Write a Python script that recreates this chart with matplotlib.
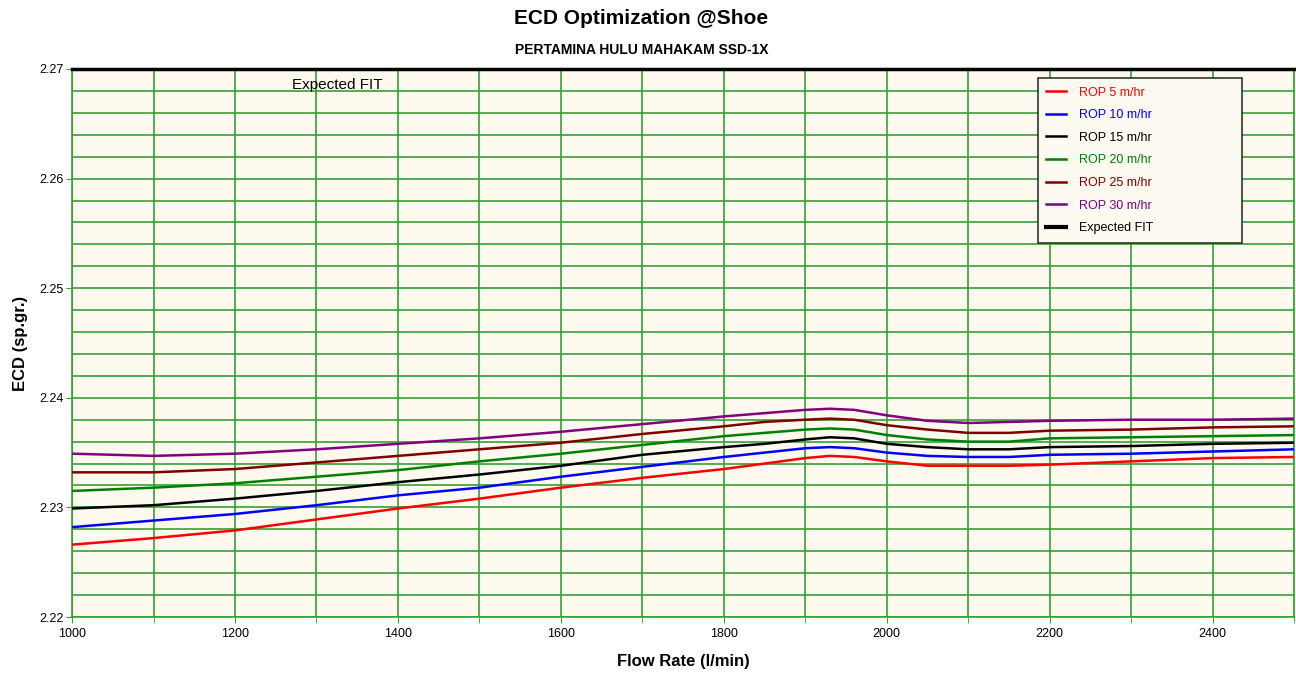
import matplotlib.pyplot as plt
from matplotlib.lines import Line2D
from matplotlib.ticker import MultipleLocator

plt.rcParams['font.family'] = ['Liberation Sans Narrow', 'Liberation Sans', 'DejaVu Sans']

# Flow rate (l/min)
flow = [1000, 1100, 1200, 1300, 1400, 1500, 1600, 1700, 1800, 1850, 1900,
        1930, 1960, 2000, 2050, 2100, 2150, 2200, 2300, 2400, 2500]

# ECD (sp.gr.) for each ROP
rop5 = [2.2266, 2.2272, 2.2279, 2.2289, 2.2299, 2.2308, 2.2318, 2.2327, 2.2335, 2.2340, 2.2345,
        2.2347, 2.2346, 2.2342, 2.2338, 2.2338, 2.2338, 2.2339, 2.2342, 2.2345, 2.2346]
rop10 = [2.2282, 2.2288, 2.2294, 2.2302, 2.2311, 2.2318, 2.2328, 2.2337, 2.2346, 2.2350, 2.2354,
         2.2355, 2.2354, 2.2350, 2.2347, 2.2346, 2.2346, 2.2348, 2.2349, 2.2351, 2.2353]
rop15 = [2.2299, 2.2302, 2.2308, 2.2315, 2.2323, 2.2330, 2.2338, 2.2348, 2.2355, 2.2358, 2.2362,
         2.2364, 2.2363, 2.2358, 2.2355, 2.2353, 2.2353, 2.2355, 2.2356, 2.2358, 2.2359]
rop20 = [2.2315, 2.2318, 2.2322, 2.2328, 2.2334, 2.2342, 2.2349, 2.2357, 2.2365, 2.2368, 2.2371,
         2.2372, 2.2371, 2.2366, 2.2362, 2.2360, 2.2360, 2.2363, 2.2364, 2.2365, 2.2366]
rop25 = [2.2332, 2.2332, 2.2335, 2.2341, 2.2347, 2.2353, 2.2359, 2.2367, 2.2374, 2.2378, 2.2380,
         2.2381, 2.2380, 2.2375, 2.2371, 2.2368, 2.2368, 2.2370, 2.2371, 2.2373, 2.2374]
rop30 = [2.2349, 2.2347, 2.2349, 2.2353, 2.2358, 2.2363, 2.2369, 2.2376, 2.2383, 2.2386, 2.2389,
         2.2390, 2.2389, 2.2384, 2.2379, 2.2377, 2.2378, 2.2379, 2.2380, 2.2380, 2.2381]

series = [rop5, rop10, rop15, rop20, rop25, rop30]
labels = ["ROP 5 m/hr", "ROP 10 m/hr", "ROP 15 m/hr", "ROP 20 m/hr", "ROP 25 m/hr", "ROP 30 m/hr"]
colors = ["#ff0000", "#0000ff", "#000000", "#008000", "#800000", "#800080"]

grid_c = "#36a036"

fig = plt.figure(figsize=(12.96, 6.73), dpi=100)
ax = fig.add_axes([0.0556, 0.0832, 0.943, 0.8143])
ax.set_facecolor("#fdf9ee")

for vals, lab, c in zip(series, labels, colors):
    ax.plot(flow, vals, color=c, lw=1.8, label=lab, zorder=3)

ax.set_xlim(1000, 2500)
ax.set_ylim(2.22, 2.27)
ax.xaxis.set_major_locator(MultipleLocator(200))
ax.xaxis.set_minor_locator(MultipleLocator(100))
ax.yaxis.set_major_locator(MultipleLocator(0.01))
ax.yaxis.set_minor_locator(MultipleLocator(0.002))
ax.yaxis.set_major_formatter(plt.FuncFormatter(lambda v, p: f"{v:.2f}"))
ax.grid(True, which="both", color=grid_c, lw=1.2, zorder=1)
ax.tick_params(which="both", direction="out", length=4, color=grid_c, labelsize=9)
ax.tick_params(axis="x", pad=4)
ax.tick_params(axis="y", pad=2)
ax.tick_params(axis="y", which="minor", length=0)

for s in ["left", "right", "bottom"]:
    ax.spines[s].set_color(grid_c)
    ax.spines[s].set_linewidth(1.2)
ax.spines["top"].set_color("black")
ax.spines["top"].set_linewidth(2.5)

ax.text(1270, 2.2692, "Expected FIT", fontsize=11, va="top", ha="left")

handles = [Line2D([], [], color=c, lw=1.8) for c in colors]
handles.append(Line2D([], [], color="black", lw=3))
leg = ax.legend(handles, labels + ["Expected FIT"], loc="upper left",
                bbox_to_anchor=(0.79, 0.2, 0.167, 0.784), mode="expand",
                borderaxespad=0, fontsize=9, frameon=True,
                fancybox=False, edgecolor="#333333", facecolor="#fdfaf2",
                handlelength=1.6, borderpad=0.7, labelspacing=0.85,
                handletextpad=1.0)
leg.get_frame().set_linewidth(1.2)
leg.get_frame().set_alpha(1)
for t, c in zip(leg.get_texts(), colors + ["black"]):
    t.set_color(c)

fig.text(0.495, 0.972, "ECD Optimization @Shoe", ha="center", va="center",
         fontsize=15, fontweight="bold")
fig.text(0.495, 0.925, "PERTAMINA HULU MAHAKAM SSD-1X", ha="center", va="center",
         fontsize=10, fontweight="bold")
ax.set_xlabel("Flow Rate (l/min)", fontsize=12, fontweight="bold", labelpad=10)
ax.set_ylabel("ECD (sp.gr.)", fontsize=12, fontweight="bold", labelpad=8)

fig.savefig("out.png", dpi=100)
